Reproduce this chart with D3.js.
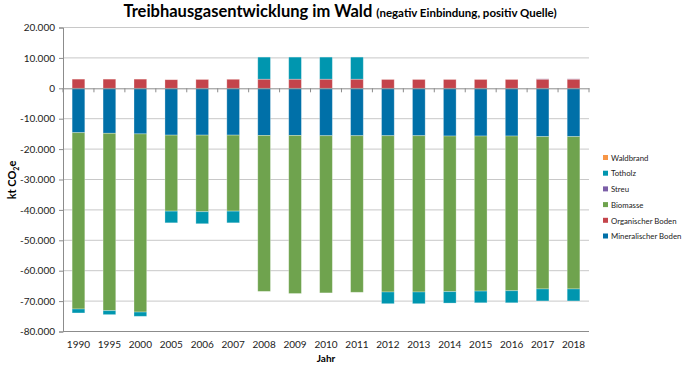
<!DOCTYPE html>
<html>
<head>
<meta charset="utf-8">
<script src="https://cdn.jsdelivr.net/npm/d3@7"></script>
<style>
  body { margin: 0; background: #fff; }
  text { font-family: Lato, "Open Sans", sans-serif; }
</style>
</head>
<body>
<svg id="chart" width="685" height="365"></svg>
<script>
// data (kt CO2e)
let years = ["1990", "1995", "2000", "2005", "2006", "2007", "2008", "2009", "2010", "2011",
             "2012", "2013", "2014", "2015", "2016", "2017", "2018"];
let mineralischerBoden = [-14600, -14800, -15000, -15400, -15400, -15400, -15500, -15500, -15600, -15600,
                          -15600, -15600, -15700, -15700, -15700, -15900, -15900];
let organischerBoden = [3050, 3050, 3050, 2850, 2950, 3000, 3000, 3000, 3000, 3000,
                        2950, 2950, 2950, 2950, 2950, 3000, 3000];
let biomasse = [-58000, -58350, -58600, -25000, -25200, -25000, -51300, -52000, -51700, -51500,
                -51400, -51400, -51200, -51000, -50900, -50100, -50100];
let streu = [0, 0, 0, 0, 0, 0, 0, 0, 0, 0, 0, 0, 0, 0, 0, 120, 120];
let totholz = [-1300, -1300, -1400, -3850, -3950, -3850, 7300, 7300, 7300, 7300,
               -3850, -3850, -3750, -3850, -3950, -3950, -3950];
let waldbrand = [10, 10, 10, 10, 10, 10, 10, 10, 10, 10, 10, 10, 10, 10, 10, 10, 10];

let seriesNames = ["Mineralischer Boden", "Organischer Boden", "Biomasse", "Streu", "Totholz", "Waldbrand"];
let seriesValues = [mineralischerBoden, organischerBoden, biomasse, streu, totholz, waldbrand];
let yTicks = [-80000, -70000, -60000, -50000, -40000, -30000, -20000, -10000, 0, 10000, 20000];

let colors = {
  "Mineralischer Boden": "#0070a8",
  "Organischer Boden": "#c4444b",
  "Biomasse": "#6fa34e",
  "Streu": "#7b5ea7",
  "Totholz": "#0096af",
  "Waldbrand": "#f79646"
};

let table = years.map((yr, i) => {
  let row = {year: yr};
  seriesNames.forEach((s, k) => row[s] = seriesValues[k][i]);
  return row;
});

let svg = d3.select("#chart");
let plotLeft = 63, plotRight = 589, plotTop = 27.5, plotBottom = 331.5;

let x = d3.scaleBand().domain(years).range([plotLeft, plotRight]).paddingInner(0.59).paddingOuter(0.295);
let y = d3.scaleLinear().domain([-80000, 20000]).range([plotBottom, plotTop]);

let de = d3.formatLocale({decimal: ",", thousands: ".", grouping: [3], currency: ["", " €"], minus: "-"});
let fmt = de.format(",d");

// gridlines
svg.append("g")
  .selectAll("line")
  .data(yTicks.filter(d => d !== 0))
  .join("line")
  .attr("x1", plotLeft).attr("x2", plotRight)
  .attr("y1", d => y(d)).attr("y2", d => y(d))
  .attr("stroke", "#c8c8c8").attr("stroke-width", 1);

// stacked bars
let stack = d3.stack().keys(seriesNames).offset(d3.stackOffsetDiverging);
let stacked = stack(table);

svg.append("g")
  .selectAll("g")
  .data(stacked)
  .join("g")
  .attr("fill", d => colors[d.key])
  .selectAll("rect")
  .data(d => d)
  .join("rect")
  .attr("x", d => x(d.data.year))
  .attr("width", x.bandwidth())
  .attr("y", d => y(d[1]))
  .attr("height", d => Math.max(0, y(d[0]) - y(d[1])))
  .attr("stroke", "#ffffff").attr("stroke-opacity", 0.35).attr("stroke-width", 0.8);

// y axis
let yAxis = svg.append("g")
  .attr("transform", `translate(${plotLeft},0)`)
  .call(d3.axisLeft(y).tickValues(yTicks).tickFormat(d => fmt(d)).tickSize(4).tickPadding(4));
yAxis.select(".domain").attr("stroke", "#8c8c8c");
yAxis.selectAll(".tick line").attr("stroke", "#8c8c8c");
yAxis.selectAll("text").attr("font-size", 10).attr("fill", "#222");

// zero line with category ticks
let xAxis = svg.append("g")
  .attr("transform", `translate(0,${y(0)})`)
  .call(d3.axisBottom(x).tickSize(0).tickFormat(""));
xAxis.select(".domain").attr("stroke", "#8c8c8c");
svg.append("g")
  .selectAll("line")
  .data(d3.range(years.length + 1))
  .join("line")
  .attr("x1", i => plotLeft + i * x.step())
  .attr("x2", i => plotLeft + i * x.step())
  .attr("y1", y(0)).attr("y2", y(0) + 4)
  .attr("stroke", "#8c8c8c");

// bottom line
svg.append("line")
  .attr("x1", plotLeft).attr("x2", plotRight)
  .attr("y1", y(-80000)).attr("y2", y(-80000))
  .attr("stroke", "#8c8c8c");

// year labels
svg.append("g")
  .selectAll("text")
  .data(years)
  .join("text")
  .attr("x", d => x(d) + x.bandwidth() / 2)
  .attr("y", 348)
  .attr("text-anchor", "middle")
  .attr("font-size", 10)
  .attr("fill", "#222")
  .text(d => d);

svg.append("text")
  .attr("x", (plotLeft + plotRight) / 2).attr("y", 362)
  .attr("text-anchor", "middle")
  .attr("font-size", 10).attr("font-weight", "bold")
  .text("Jahr");

// y label
let yl = svg.append("text")
  .attr("transform", "translate(16,180) rotate(-90)")
  .attr("text-anchor", "middle")
  .attr("font-size", 11).attr("font-weight", "bold");
yl.append("tspan").text("kt CO");
yl.append("tspan").attr("font-size", 7).attr("dy", 3).text("2");
yl.append("tspan").attr("dy", -3).text("e");

// title
let title = svg.append("text")
  .attr("x", 340).attr("y", 17)
  .attr("text-anchor", "middle");
title.append("tspan").attr("font-size", 16.5).attr("font-weight", "bold").text("Treibhausgasentwicklung im Wald ");
title.append("tspan").attr("font-size", 11.5).attr("font-weight", "bold").text("(negativ Einbindung, positiv Quelle)");

// legend
let legendNames = seriesNames.slice().reverse();
let lg = svg.append("g")
  .selectAll("g")
  .data(legendNames)
  .join("g")
  .attr("transform", (d, i) => `translate(603,${158 + i * 15.7})`);
lg.append("rect").attr("x", 0).attr("y", -3).attr("width", 5).attr("height", 5)
  .attr("fill", d => colors[d]);
lg.append("text").attr("x", 8).attr("y", 0).attr("dy", "0.35em")
  .attr("font-size", 7.8).attr("fill", "#222")
  .text(d => d);
</script>
</body>
</html>
